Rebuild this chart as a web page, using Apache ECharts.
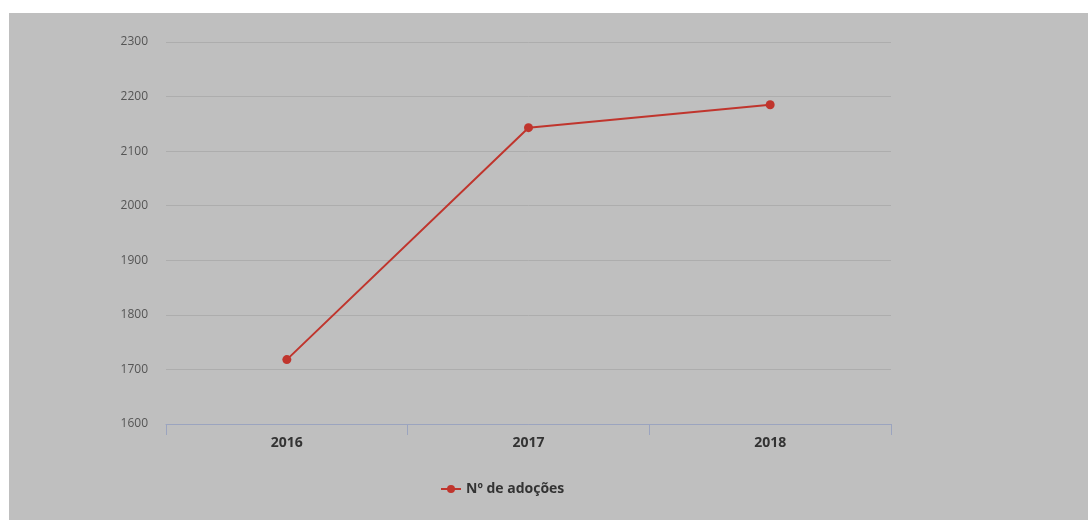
<!DOCTYPE html>
<html><head><meta charset="utf-8">
<script src="https://cdn.jsdelivr.net/npm/echarts@6/dist/echarts.min.js"></script>
<style>
html,body{margin:0;padding:0;background:#fff;width:1088px;height:520px;overflow:hidden;}
#c{position:absolute;left:9px;top:13px;width:1079px;height:507px;}
</style></head>
<body><div id="c"></div>
<script>
const categories = ['2016', '2017', '2018'];
const seriesName = 'Nº de adoções';
const adocoes = [1718, 2143, 2185];

const chart = echarts.init(document.getElementById('c'));
chart.setOption({
  backgroundColor: '#bfbfbf',
  animation: false,
  textStyle: { fontFamily: '"Open Sans", sans-serif' },
  grid: { left: 157, top: 29, width: 725, height: 382 },
  legend: {
    data: [seriesName],
    left: 426, top: 464,
    itemWidth: 20, itemHeight: 10,
    itemGap: 6,
    textStyle: { color: '#333', fontSize: 14, fontWeight: 'bold', fontFamily: '"Open Sans", sans-serif' }
  },
  xAxis: {
    type: 'category',
    data: categories,
    boundaryGap: true,
    axisLine: { lineStyle: { color: '#9ba4bf', width: 1 } },
    axisTick: { show: true, length: 11, lineStyle: { color: '#9ba4bf' } },
    axisLabel: { color: '#333', fontSize: 14, fontWeight: 'bold', margin: 12 },
    splitLine: { show: false }
  },
  yAxis: {
    type: 'value',
    min: 1600, max: 2300, interval: 100,
    axisLine: { show: false },
    axisTick: { show: false },
    axisLabel: { color: '#555', fontSize: 12, margin: 18, formatter: v => String(v) },
    splitLine: { lineStyle: { color: '#adadad', width: 1 } }
  },
  series: [{
    name: seriesName,
    type: 'line',
    data: adocoes,
    symbol: 'circle',
    symbolSize: 9,
    color: '#c0352d',
    lineStyle: { width: 2, color: '#c0352d' },
    itemStyle: { color: '#c0352d' }
  }]
});
</script></body></html>
